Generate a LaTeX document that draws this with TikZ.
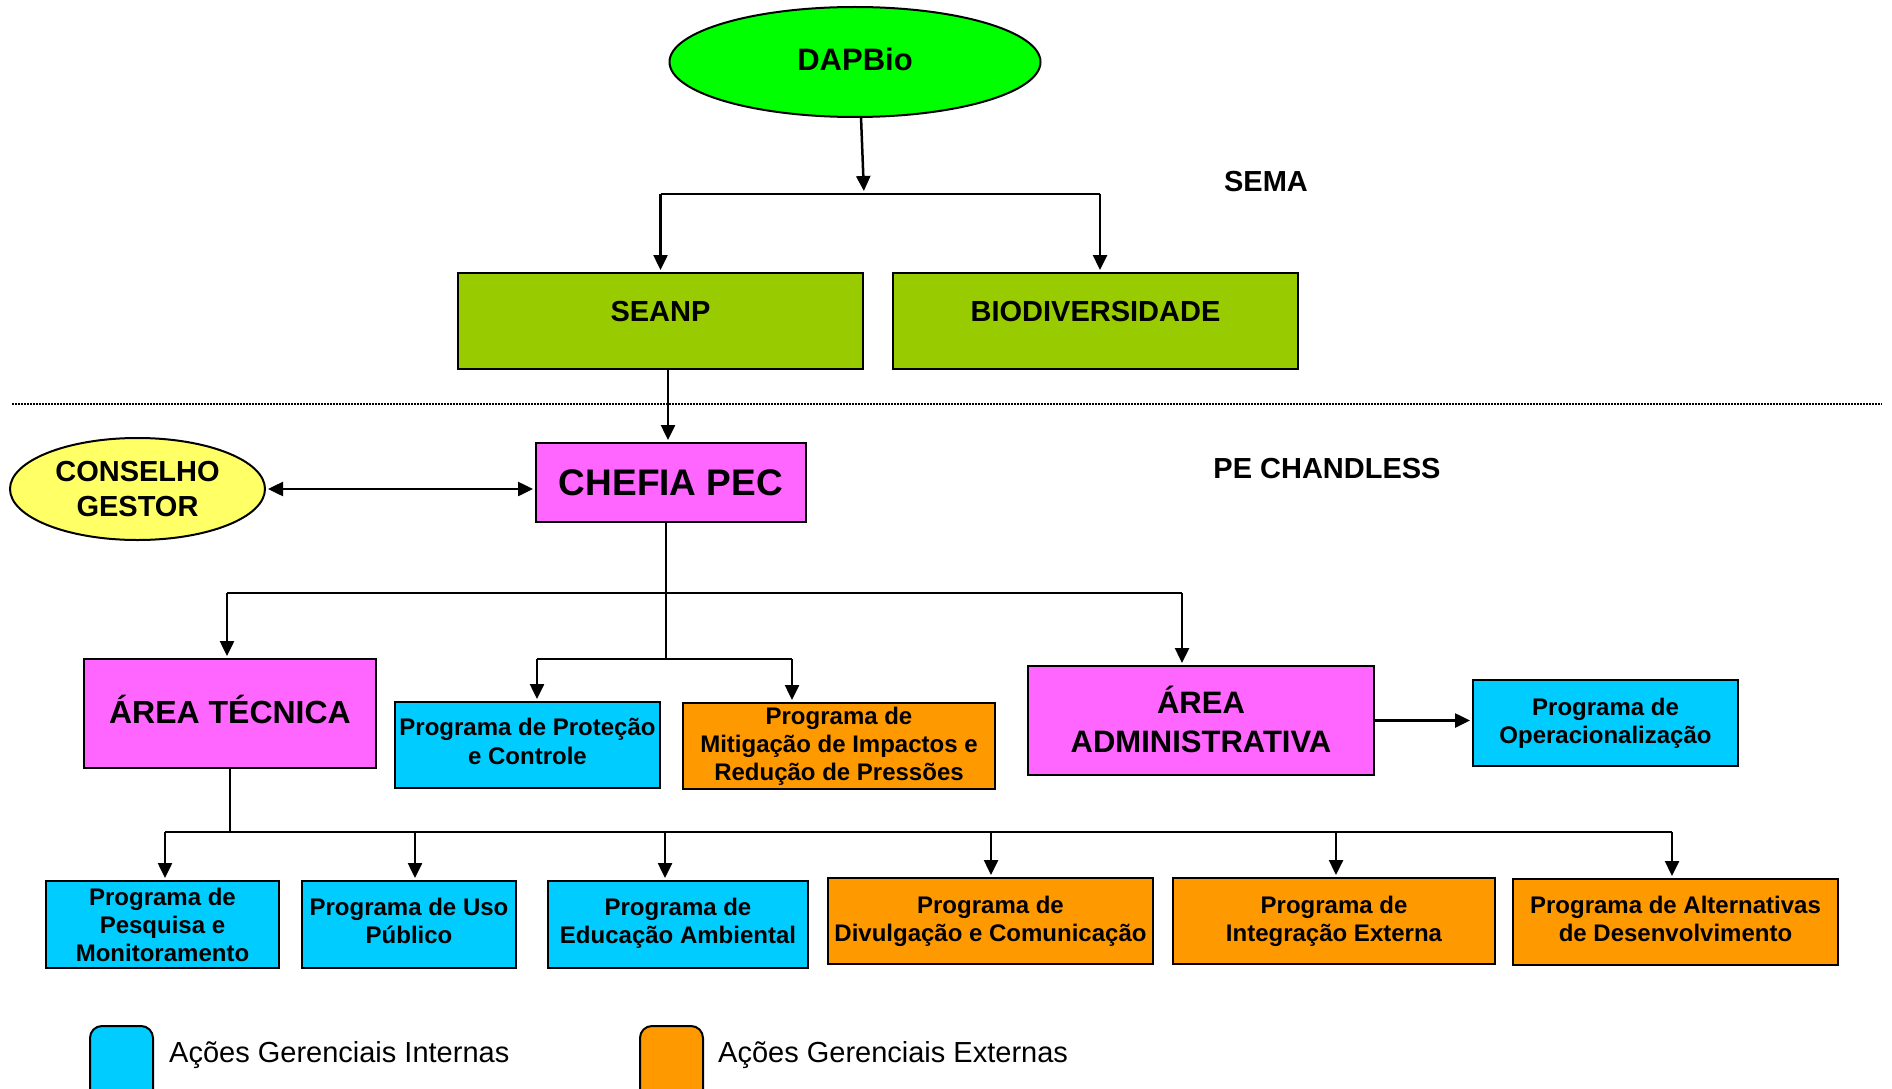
\documentclass[tikz,border=0pt]{standalone}
\usepackage{fontspec}
\setmainfont{Liberation Sans}
\usetikzlibrary{shapes.geometric,arrows.meta}
\definecolor{cgreen}{HTML}{00FF00}
\definecolor{colive}{HTML}{99CC00}
\definecolor{cmag}{HTML}{FF66FF}
\definecolor{ccyan}{HTML}{00CCFF}
\definecolor{corange}{HTML}{FF9900}
\definecolor{cyellow}{HTML}{FFFF66}
\begin{document}
\begin{tikzpicture}[x=1pt,y=-1pt,
 box/.style={draw=black,line width=2pt,inner sep=0pt,outer sep=0pt,align=center,font=\bfseries\fontsize{24}{28}\selectfont},
 oval/.style={ellipse,draw=black,line width=2pt,inner sep=0pt,outer sep=0pt,align=center},
 conn/.style={line width=2.5pt},
 arr/.style={line width=2.5pt,shorten >=3pt,-{Triangle[length=15pt,width=14pt]}},
 darr/.style={line width=2.5pt,shorten >=3pt,shorten <=3pt,{Triangle[length=15pt,width=14pt]}-{Triangle[length=15pt,width=14pt]}},
 lbl/.style={font=\bfseries\fontsize{29}{35}\selectfont,align=center},
 legbox/.style={draw=black,line width=2pt,rounded corners=12pt,minimum width=63pt,minimum height=95pt,anchor=north west,inner sep=0pt,outer sep=0pt},
 legtxt/.style={anchor=west,inner sep=0pt,font=\fontsize{29}{35}\selectfont},
]
\useasboundingbox (0,0) rectangle (1892,1089);
\clip (0,0) rectangle (1892,1089);

% top level
\node[oval,fill=cgreen,minimum width=371pt,minimum height=110pt,text depth=5pt,font=\bfseries\fontsize{31}{37}\selectfont] (dap) at (855,62) {DAPBio};
\node[box,fill=colive,minimum width=405pt,text height=48pt,text depth=48pt,lbl] (seanp) at (660.5,321) {SEANP};
\node[box,fill=colive,minimum width=405pt,text height=48pt,text depth=48pt,lbl] (bio) at (1095.5,321) {BIODIVERSIDADE};
\node[lbl] (sema) at (1266,182) {SEMA};

\coordinate (dl) at (12,404);
\coordinate (dr) at (1882,404);
\draw[line width=1.5pt,dash pattern=on 1.5pt off 1.5pt] (dl) -- (dr);

\node[box,fill=cmag,minimum width=270pt,minimum height=79pt,font=\bfseries\fontsize{37}{44}\selectfont] (chefia) at (671,482.5) {CHEFIA PEC};
\node[oval,fill=cyellow,minimum width=255pt,minimum height=102pt,lbl] (cons) at (137.5,489) {CONSELHO\\GESTOR};
\node[lbl] (pe) at (1327,469) {PE CHANDLESS};

% second level
\node[box,fill=cmag,minimum width=292pt,minimum height=109pt,text height=23pt,text depth=3pt,font=\bfseries\fontsize{32}{38}\selectfont] (tec) at (230,713.5) {ÁREA TÉCNICA};
\node[box,fill=ccyan,minimum width=265pt,minimum height=86pt,text depth=7pt,font=\bfseries\fontsize{24}{29}\selectfont] (prot) at (527.5,745) {Programa de Proteção\\e Controle};
\node[box,fill=corange,minimum width=312pt,minimum height=86pt] (mit) at (839,746) {Programa de\\Mitigação de Impactos e\\Redução de Pressões};
\node[box,fill=cmag,minimum width=346pt,minimum height=109pt,text depth=2pt,font=\bfseries\fontsize{31}{38.5}\selectfont] (adm) at (1201,720.5) {ÁREA\\ADMINISTRATIVA};
\node[box,fill=ccyan,minimum width=265pt,minimum height=86pt] (oper) at (1605.5,723) {Programa de\\Operacionalização};

% bottom level
\node[box,fill=ccyan,minimum width=233pt,minimum height=87pt] (pesq) at (162.5,924.5) {Programa de\\Pesquisa e\\Monitoramento};
\node[box,fill=ccyan,minimum width=214pt,minimum height=87pt,text depth=7pt] (uso) at (409,924.5) {Programa de Uso\\Público};
\node[box,fill=ccyan,minimum width=260pt,minimum height=87pt,text depth=8pt] (edu) at (678,924.5) {Programa de\\Educação Ambiental};
\node[box,fill=corange,minimum width=325pt,minimum height=86pt] (div) at (990.5,921) {Programa de\\Divulgação e Comunicação};
\node[box,fill=corange,minimum width=322pt,minimum height=86pt] (integ) at (1334,921) {Programa de\\Integração Externa};
\node[box,fill=corange,minimum width=325pt,minimum height=86pt,text depth=6pt] (alt) at (1675.5,922) {Programa de Alternativas\\de Desenvolvimento};

% legend
\node[legbox,fill=ccyan] (leg1) at (90,1026) {};
\node[legtxt] (leg1t) at (169,1055) {Ações Gerenciais Internas};
\node[legbox,fill=corange] (leg2) at (640,1026) {};
\node[legtxt] (leg2t) at (718,1055) {Ações Gerenciais Externas};

% connectors, top
\coordinate (j1) at (864,194);
\draw[arr] ([xshift=6pt]dap.south) -- (j1);
\draw[conn] (seanp.north |- j1) -- ([xshift=4.5pt]bio.north |- j1);
\draw[arr] (seanp.north |- j1) -- (seanp.north);
\draw[arr] ([xshift=4.5pt]bio.north |- j1) -- ([xshift=4.5pt]bio.north);
\draw[arr] ([xshift=7.5pt]seanp.south) -- ([xshift=-3pt]chefia.north);
\draw[darr] (cons.east) -- (chefia.west |- cons.east);

% connectors, chefia
\coordinate (j2) at (666,593);
\coordinate (j3) at (666,659);
\draw[conn] ([xshift=-5pt]chefia.south) -- (j3);
\draw[conn] ([xshift=-3pt]tec.north |- j2) -- ([xshift=-19pt]adm.north |- j2);
\draw[arr] ([xshift=-3pt]tec.north |- j2) -- ([xshift=-3pt]tec.north);
\draw[arr] ([xshift=-19pt]adm.north |- j2) -- ([xshift=-19pt]adm.north);
\draw[conn] ([xshift=9.5pt]prot.north |- j3) -- ([xshift=-47pt]mit.north |- j3);
\draw[arr] ([xshift=9.5pt]prot.north |- j3) -- ([xshift=9.5pt]prot.north);
\draw[arr] ([xshift=-47pt]mit.north |- j3) -- ([xshift=-47pt]mit.north);
\draw[arr] (adm.east) -- (oper.west |- adm.east);

% connectors, area tecnica
\coordinate (j4) at (230,832);
\draw[conn] (tec.south) -- (j4);
\draw[conn] ([xshift=2.5pt]pesq.north |- j4) -- ([xshift=-3.5pt]alt.north |- j4);
\draw[arr] ([xshift=2.5pt]pesq.north |- j4) -- ([xshift=2.5pt]pesq.north);
\draw[arr] ([xshift=6pt]uso.north |- j4) -- ([xshift=6pt]uso.north);
\draw[arr] ([xshift=-13pt]edu.north |- j4) -- ([xshift=-13pt]edu.north);
\draw[arr] ([xshift=0.5pt]div.north |- j4) -- ([xshift=0.5pt]div.north);
\draw[arr] ([xshift=2pt]integ.north |- j4) -- ([xshift=2pt]integ.north);
\draw[arr] ([xshift=-3.5pt]alt.north |- j4) -- ([xshift=-3.5pt]alt.north);
\end{tikzpicture}
\end{document}
